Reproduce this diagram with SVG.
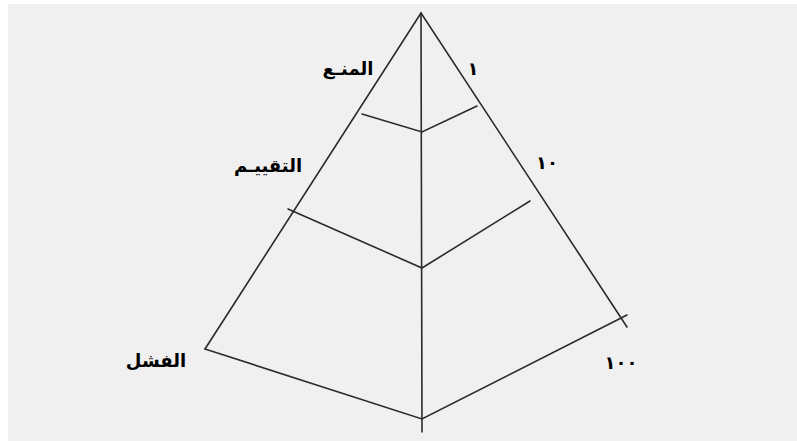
<svg xmlns="http://www.w3.org/2000/svg" width="797" height="441" viewBox="0 0 797 441">
<style>
.ln{stroke:#2a2a2a;stroke-width:1.6;fill:none;stroke-linecap:round}
.lb{font-family:"DejaVu Sans","Noto Sans",sans-serif;font-weight:bold;font-size:18px;fill:#000;text-anchor:middle}
.dg{letter-spacing:4px}
</style>
<rect x="0" y="0" width="797" height="441" fill="#ffffff"/>
<rect x="8" y="4" width="789" height="437" fill="#f0f0f0"/>
<g id="connectors">
<polyline class="ln" points="205,349 421,13 627,327"/>
<polyline class="ln" points="205,349 422,419 627,315"/>
<line class="ln" x1="421" y1="13" x2="422" y2="432"/>
<polyline class="ln" points="362,114 422,132 477,106"/>
<polyline class="ln" points="288,209 422,268 530,201"/>
</g>
<g id="label-prevention"><text class="lb" x="348" y="75">المنـع</text></g>
<g id="label-1"><text class="lb" x="473" y="75">١</text></g>
<g id="label-evaluation"><text class="lb" x="268" y="172">التقييـم</text></g>
<g id="label-10"><text class="lb dg" x="547" y="169">١٠</text></g>
<g id="label-failure"><text class="lb" x="156" y="367">الفشل</text></g>
<g id="label-100"><text class="lb dg" x="621" y="369">١٠٠</text></g>
</svg>
